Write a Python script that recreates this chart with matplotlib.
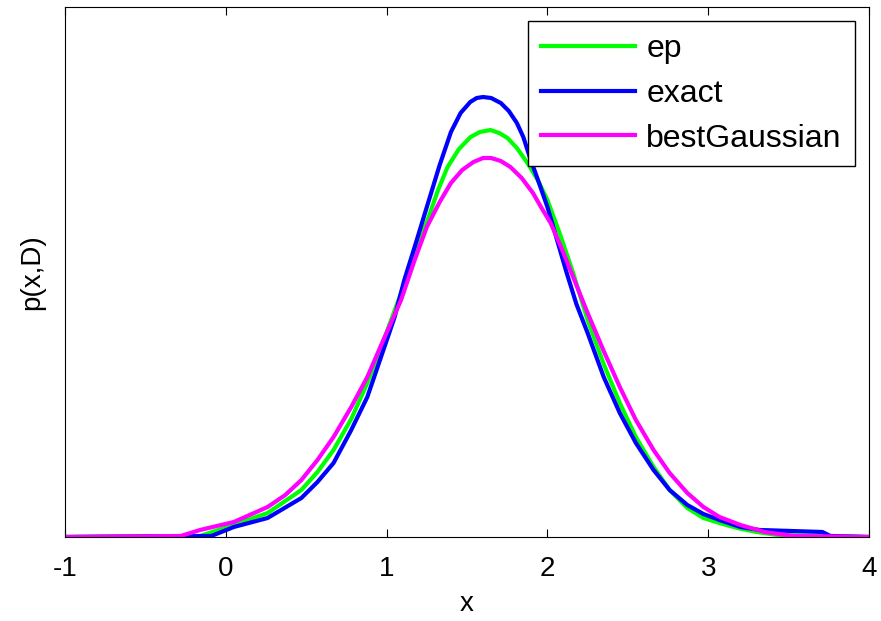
import matplotlib
matplotlib.use("Agg")
import matplotlib.pyplot as plt

plt.rcParams['font.family'] = ['Liberation Sans', 'DejaVu Sans']
plt.rcParams['axes.unicode_minus'] = False

# curves
ep_x = [-1.0, -0.16, 0.05, 0.26, 0.47, 0.57, 0.67, 0.78, 0.88, 0.98, 1.09,
        1.17, 1.255, 1.32, 1.379, 1.45, 1.522, 1.58, 1.646, 1.70, 1.752, 1.81,
        1.876, 1.94, 2.0, 2.08, 2.16, 2.25, 2.35, 2.45, 2.55, 2.66, 2.76, 2.87,
        2.97, 3.07, 3.18, 3.30, 3.43, 4.0]
ep_y = [0.0, 0.001, 0.012, 0.024, 0.047, 0.065, 0.087, 0.118, 0.154, 0.196,
        0.244, 0.285, 0.317, 0.347, 0.370, 0.388, 0.400, 0.405, 0.407, 0.404,
        0.399, 0.389, 0.374, 0.357, 0.337, 0.302, 0.264, 0.217, 0.173, 0.134,
        0.100, 0.070, 0.047, 0.029, 0.019, 0.014, 0.009, 0.005, 0.002, 0.0]

exact_x = [-1.0, -0.09, 0.05, 0.26, 0.47, 0.57, 0.67, 0.78, 0.88, 0.98, 1.05,
           1.11, 1.18, 1.25, 1.33, 1.40, 1.46, 1.52, 1.56, 1.60, 1.65, 1.71,
           1.76, 1.81, 1.85, 1.89, 1.95, 2.00, 2.06, 2.12, 2.18, 2.25, 2.35,
           2.45, 2.55, 2.66, 2.76, 2.87, 2.97, 3.07, 3.20, 3.32, 3.71, 3.76,
           4.0]
exact_y = [0.0, 0.001, 0.010, 0.019, 0.039, 0.055, 0.074, 0.107, 0.140, 0.187,
           0.220, 0.257, 0.293, 0.330, 0.372, 0.405, 0.424, 0.435, 0.439, 0.440,
           0.439, 0.434, 0.426, 0.414, 0.400, 0.380, 0.353, 0.330, 0.297, 0.264,
           0.233, 0.204, 0.160, 0.124, 0.094, 0.067, 0.047, 0.032, 0.023, 0.017,
           0.010, 0.007, 0.005, 0.001, 0.0]

gauss_x = [-1.0, -0.28, -0.16, 0.05, 0.26, 0.37, 0.47, 0.57, 0.67, 0.78, 0.88,
           0.98, 1.09, 1.17, 1.25, 1.33, 1.40, 1.47, 1.54, 1.60, 1.65, 1.71,
           1.77, 1.84, 1.91, 1.96, 2.02, 2.09, 2.16, 2.25, 2.35, 2.45, 2.55,
           2.66, 2.76, 2.87, 2.97, 3.07, 3.20, 3.35, 3.53, 4.0]
gauss_y = [0.0, 0.001, 0.007, 0.015, 0.030, 0.042, 0.057, 0.077, 0.100, 0.130,
           0.160, 0.197, 0.237, 0.275, 0.310, 0.335, 0.354, 0.367, 0.375, 0.379,
           0.379, 0.376, 0.370, 0.359, 0.344, 0.330, 0.314, 0.288, 0.260, 0.224,
           0.186, 0.150, 0.117, 0.087, 0.064, 0.044, 0.030, 0.020, 0.012, 0.005,
           0.001, 0.0]

fig = plt.figure(figsize=(8.81, 6.21), dpi=100)
ax = fig.add_axes([0.0738, 0.1353, 0.9126, 0.8534])

ax.plot(ep_x, ep_y, color='#00ff00', lw=3, label='ep')
ax.plot(exact_x, exact_y, color='#0000ff', lw=3, label='exact')
ax.plot(gauss_x, gauss_y, color='#ff00ff', lw=3, label='bestGaussian')

ax.set_xlim(-1, 4)
ax.set_ylim(0, 0.53)
ax.set_yticks([])
ax.set_xticks([-1, 0, 1, 2, 3, 4])
ax.tick_params(axis='x', direction='in', top=True, length=6, labelsize=20, pad=14)
ax.set_xlabel('x', fontsize=20, labelpad=6)
ax.set_ylabel('p(x,D)', fontsize=20, labelpad=14)

leg = ax.legend(loc='upper right', fontsize=23, frameon=True, fancybox=False,
                edgecolor='black', framealpha=1, handlelength=2.95,
                handletextpad=0.35, borderaxespad=0.45, labelspacing=0.46,
                borderpad=0.4)
leg.get_frame().set_linewidth(1)

fig.savefig('out.png', dpi=100)
